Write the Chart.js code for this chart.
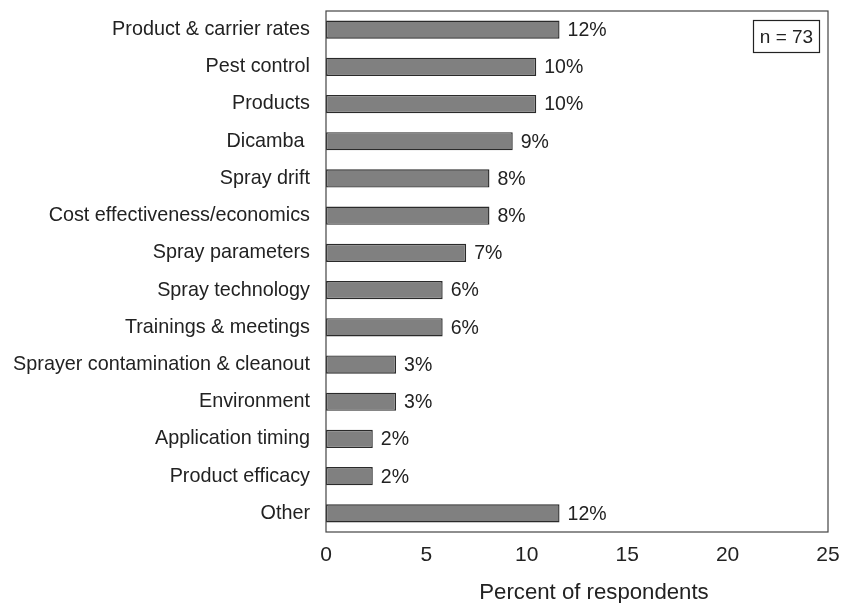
<!DOCTYPE html>
<html>
<head>
<meta charset="utf-8">
<script src="https://cdn.jsdelivr.net/npm/chart.js@4/dist/chart.umd.min.js"></script>
<style>
    html, body { margin: 0; padding: 0; background: #fff; }
    #wrap { width: 842px; height: 603px; }
</style>
</head>
<body>
<div id="wrap"><canvas id="chart" width="842" height="603"></canvas></div>
<script>
const categories = [
    'Product & carrier rates',
    'Pest control',
    'Products',
    'Dicamba ',
    'Spray drift',
    'Cost effectiveness/economics',
    'Spray parameters',
    'Spray technology',
    'Trainings & meetings',
    'Sprayer contamination & cleanout',
    'Environment',
    'Application timing',
    'Product efficacy',
    'Other'
];
const percents = [11.63, 10.47, 10.47, 9.30, 8.14, 8.14, 6.98, 5.81, 5.81, 3.49, 3.49, 2.33, 2.33, 11.63];
const barLabels = ['12%', '10%', '10%', '9%', '8%', '8%', '7%', '6%', '6%', '3%', '3%', '2%', '2%', '12%'];
const xTicks = [0, 5, 10, 15, 20, 25];
const sampleNote = 'n = 73';

const FONT = 'Liberation Sans, Arial, sans-serif';

const decorations = {
    id: 'decorations',
    afterDatasetsDraw(chart) {
        const ctx = chart.ctx;
        const area = chart.chartArea;
        const meta = chart.getDatasetMeta(0);
        ctx.save();
        // bar value labels
        ctx.font = '19.5px ' + FONT;
        ctx.fillStyle = '#222';
        ctx.textAlign = 'left';
        ctx.textBaseline = 'middle';
        meta.data.forEach((bar, i) => {
            ctx.fillText(barLabels[i], bar.x + 8, bar.y + 1);
        });
        // plot frame
        ctx.strokeStyle = '#444';
        ctx.lineWidth = 1.2;
        ctx.strokeRect(area.left, area.top, area.right - area.left, area.bottom - area.top);
        // n box
        ctx.strokeStyle = '#222';
        ctx.strokeRect(753.5, 20.5, 66, 32);
        ctx.font = '19px ' + FONT;
        ctx.textAlign = 'center';
        ctx.fillText(sampleNote, 786.5, 37.5);
        // axis title
        ctx.font = '22.2px ' + FONT;
        ctx.fillText('Percent of respondents', 594, 593);
        ctx.restore();
    }
};

new Chart(document.getElementById('chart'), {
    type: 'bar',
    data: {
        labels: categories,
        datasets: [{
            data: percents,
            backgroundColor: '#808080',
            borderColor: '#2a2a2a',
            borderWidth: 1.4,
            borderSkipped: false,
            barPercentage: 0.49,
            categoryPercentage: 1.0
        }]
    },
    options: {
        responsive: false,
        animation: false,
        indexAxis: 'y',
        layout: { padding: { top: 11, right: 14, left: 0, bottom: 0 } },
        plugins: {
            legend: { display: false },
            tooltip: { enabled: false }
        },
        scales: {
            x: {
                min: 0,
                max: 25,
                afterBuildTicks: s => { s.ticks = xTicks.map(v => ({ value: v })); },
                afterFit: s => {
                    s.height = 71;
                    s.paddingLeft = 0;
                    s.paddingRight = 0;
                },
                grid: { display: false, drawTicks: false },
                border: { display: false },
                ticks: {
                    color: '#222',
                    padding: 11,
                    font: { family: FONT, size: 21 }
                }
            },
            y: {
                afterFit: s => {
                    s.width = 326;
                    s.paddingTop = 0;
                    s.paddingBottom = 0;
                },
                grid: { display: false, drawTicks: false },
                border: { display: false },
                ticks: {
                    color: '#222',
                    padding: 16,
                    font: { family: FONT, size: 19.8 }
                }
            }
        }
    },
    plugins: [decorations]
});
</script>
</body>
</html>
